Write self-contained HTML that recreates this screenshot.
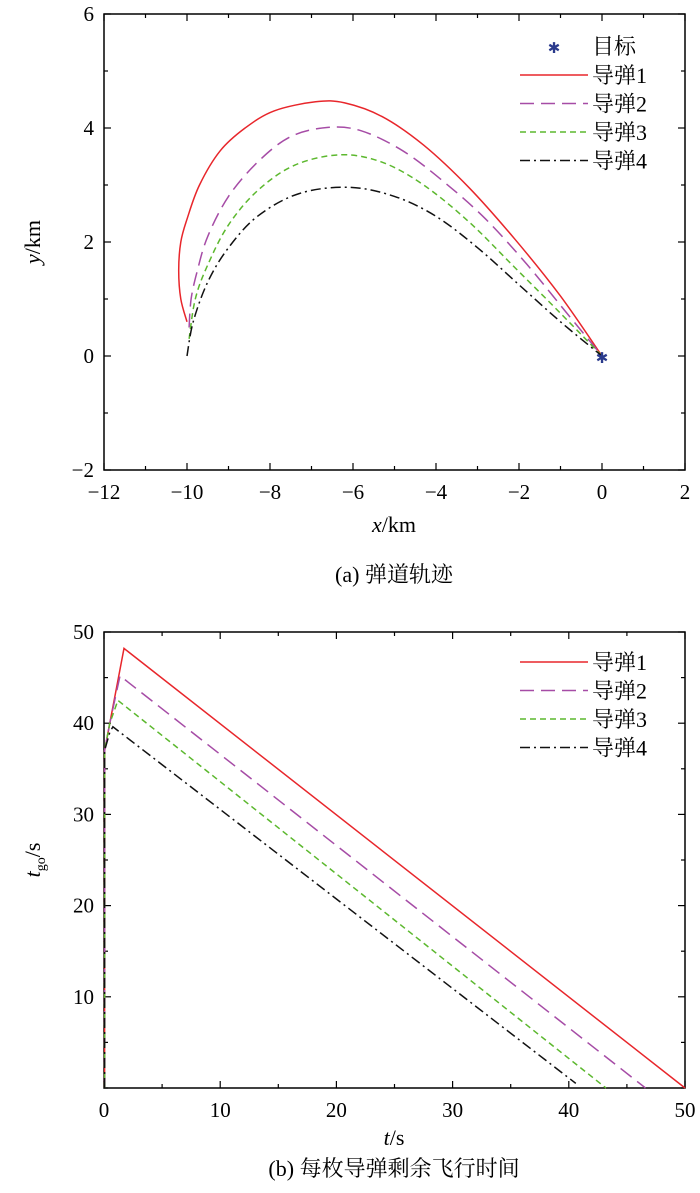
<!DOCTYPE html>
<html><head><meta charset="utf-8">
<style>
html,body{margin:0;padding:0;background:#fff;}
svg{display:block;font-family:"Liberation Serif","Noto Serif CJK SC",serif;}
</style></head>
<body>
<svg id="s" width="700" height="1193" viewBox="0 0 700 1193"></svg>
<script>
// ---- Chart (a) data ----
const seriesNames = ['导弹1','导弹2','导弹3','导弹4'];
const trajX1 = [-10,-10.15,-10.2,-10.15,-10.0,-9.7,-9.2,-8.6,-7.9,-6.9,-6.2,-5.3,-4.3,-3.2,-2.1,-1,0];
const trajY1 = [0.6,1,1.5,2,2.4,3,3.6,4.0,4.3,4.46,4.44,4.2,3.7,2.95,2.05,1.05,0];
const trajX2 = [-9.95,-9.9,-9.75,-9.5,-9.0,-8.3,-7.5,-6.6,-5.8,-4.8,-3.8,-2.8,-1.8,-0.9,0];
const trajY2 = [0.5,1,1.5,2.1,2.8,3.4,3.85,4.01,3.95,3.6,3.05,2.4,1.6,0.8,0];
const trajX3 = [-9.95,-9.8,-9.5,-9.0,-8.3,-7.4,-6.3,-5.3,-4.3,-3.2,-2.1,-1,0];
const trajY3 = [0.3,1,1.6,2.3,2.9,3.35,3.53,3.4,3.0,2.35,1.55,0.75,0];
const trajX4 = [-10,-9.85,-9.5,-9.0,-8.3,-7.3,-6.1,-5,-4,-3,-2,-1,0];
const trajY4 = [0,0.6,1.3,1.9,2.45,2.85,2.96,2.8,2.45,1.9,1.25,0.6,0];
const targetXY = [0,0];
const xTicksA = [-12,-10,-8,-6,-4,-2,0,2];
const yTicksA = [-2,0,2,4,6];
// ---- Chart (b) data ----
const tT1 = [0.05,0.05,0.5,1.72,50];   const g1 = [0,37,40,48.2,0];
const tT2 = [0.05,0.05,0.5,1.38,46.6]; const g2 = [0,37,40,45.2,0];
const tT3 = [0.05,0.05,0.5,1.2,43.2];  const g3 = [0,37,40,42.5,0];
const tT4 = [0.05,0.05,0.5,0.77,40.6]; const g4 = [0,37,39,39.6,0.5];
const xTicksB = [0,10,20,30,40,50];
const yTicksB = [10,20,30,40,50];

const NS='http://www.w3.org/2000/svg';
const svg=document.getElementById('s');
function el(tag,attrs,parent){const e=document.createElementNS(NS,tag);for(const k in attrs)e.setAttribute(k,attrs[k]);(parent||svg).appendChild(e);return e;}
function txt(x,y,s,size,anchor,parent){const t=el('text',{x:x,y:y,'font-size':size,'text-anchor':anchor||'middle'},parent);t.textContent=s;return t;}
const colors=['#e8262b','#a64ca6','#5cb82e','#111'];
const dashes=['none','14,7','6,4','10,4,2,4'];

function axes(g,L,T,R,B,xs,ys,xmin,xmax,xstep,ymin,ymax,ystep,xt,yt){
  el('rect',{x:L,y:T,width:R-L,height:B-T,fill:'none',stroke:'#000','stroke-width':1.5},g);
  for(let v=xmin;v<=xmax+1e-9;v+=xstep){const x=xs(v);const len=(xt.includes(Math.round(v)))?7:4;
    el('line',{x1:x,y1:B,x2:x,y2:B-len,stroke:'#000','stroke-width':1.2},g);
    el('line',{x1:x,y1:T,x2:x,y2:T+len,stroke:'#000','stroke-width':1.2},g);}
  for(let v=ymin;v<=ymax+1e-9;v+=ystep){const y=ys(v);const len=(yt.includes(Math.round(v)))?7:4;
    el('line',{x1:L,y1:y,x2:L+len,y2:y,stroke:'#000','stroke-width':1.2},g);
    el('line',{x1:R,y1:y,x2:R-len,y2:y,stroke:'#000','stroke-width':1.2},g);}
  xt.forEach(v=>{const t=txt(xs(v),B+29,v<0?'−'+(-v):String(v),21,'middle',g);
    
    });
  yt.forEach(v=>{const t=txt(L-10,ys(v)+7,v<0?'−'+(-v):String(v),21,'end',g);
    
    });
}
function series(g,xs,ys,X,Y,i,name,smooth){
  const P=X.map((x,k)=>[xs(x),ys(Y[k])]);
  let d='M'+P[0][0].toFixed(1)+','+P[0][1].toFixed(1);
  for(let k=0;k<P.length-1;k++){
    if(!smooth){d+='L'+P[k+1][0].toFixed(1)+','+P[k+1][1].toFixed(1);continue;}
    const p0=P[Math.max(0,k-1)],p1=P[k],p2=P[k+1],p3=P[Math.min(P.length-1,k+2)];
    const c1=[p1[0]+(p2[0]-p0[0])/6,p1[1]+(p2[1]-p0[1])/6];
    const c2=[p2[0]-(p3[0]-p1[0])/6,p2[1]-(p3[1]-p1[1])/6];
    d+='C'+c1[0].toFixed(1)+','+c1[1].toFixed(1)+' '+c2[0].toFixed(1)+','+c2[1].toFixed(1)+' '+p2[0].toFixed(1)+','+p2[1].toFixed(1);
  }
  const p=el('path',{d:d,fill:'none',stroke:colors[i],'stroke-width':1.5,'stroke-dasharray':dashes[i]},g);
  
  
}
function legendEntry(g,x,y,i,label){
  const l=el('line',{x1:x,y1:y,x2:x+68,y2:y,stroke:colors[i],'stroke-width':1.5,'stroke-dasharray':dashes[i]},g);
  const t=txt(x+72,y+8,label,22,'start',g);
  
  
}

// Chart a
const ga=el('g',{});


const LA=104,RA=685,TA=14,BA=470;
const xa=v=>LA+(v+12)*(RA-LA)/14, ya=v=>BA-(v+2)*(BA-TA)/8;
axes(ga,LA,TA,RA,BA,xa,ya,-12,2,1,-2,6,1,xTicksA,yTicksA);
[[trajX1,trajY1],[trajX2,trajY2],[trajX3,trajY3],[trajX4,trajY4]].forEach((s,i)=>series(ga,xa,ya,s[0],s[1],i,'trajectory-'+(i+1),true));
const star=txt(xa(targetXY[0]),ya(targetXY[1])+7,'✱',15,'middle',ga);star.setAttribute('fill','#2a3a8c');


const ls=txt(554,53,'✱',15,'middle',ga);ls.setAttribute('fill','#2a3a8c');
const lt=txt(592,54,'目标',22,'start',ga);


seriesNames.forEach((n,i)=>legendEntry(ga,520,75+i*28.5,i,n));
const xla=el('text',{x:394,y:532,'font-size':22,'text-anchor':'middle'},ga);xla.innerHTML='<tspan font-style="italic">x</tspan>/km';


const yla=el('text',{x:0,y:0,'font-size':22,'text-anchor':'middle',transform:'translate(40,242) rotate(-90)'},ga);yla.innerHTML='<tspan font-style="italic">y</tspan>/km';


const ca=txt(394,582,'(a) 弹道轨迹',22,'middle',ga);



// Chart b
const gb=el('g',{});


const LB=104,RB=685,TB=632,BB=1088;
const xb=v=>LB+v*(RB-LB)/50, yb=v=>BB-v*(BB-TB)/50;
axes(gb,LB,TB,RB,BB,xb,yb,0,50,5,0,50,5,xTicksB,yTicksB);
[[tT1,g1],[tT2,g2],[tT3,g3],[tT4,g4]].forEach((s,i)=>series(gb,xb,yb,s[0],s[1],i,'tgo-missile-'+(i+1),false));
seriesNames.forEach((n,i)=>legendEntry(gb,520,662+i*28.5,i,n));
const xlb=el('text',{x:394,y:1145,'font-size':22,'text-anchor':'middle'},gb);xlb.innerHTML='<tspan font-style="italic">t</tspan>/s';


const ylb=el('text',{x:0,y:0,'font-size':22,'text-anchor':'middle',transform:'translate(40,860) rotate(-90)'},gb);ylb.innerHTML='<tspan font-style="italic">t</tspan><tspan font-size="14" dy="5">go</tspan><tspan dy="-5">/s</tspan>';


const cb=txt(394,1176,'(b) 每枚导弹剩余飞行时间',22,'middle',gb);


</script>
</body></html>
